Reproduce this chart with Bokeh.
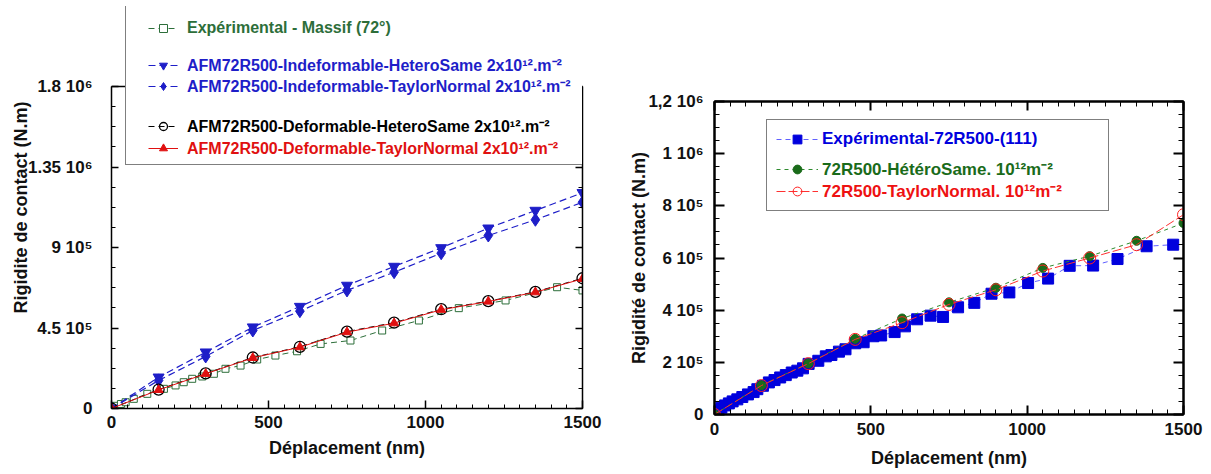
import numpy as np
from bokeh.plotting import figure
from bokeh.models import Range1d, LinearAxis, FixedTicker, Legend, LegendItem, Span
from bokeh.layouts import row
from bokeh.core.properties import value
from bokeh.embed import file_html
from bokeh.resources import INLINE

FONT = "Liberation Sans"

# ---------------- left chart data ----------------
left_exp_x = [0, 15, 30, 45, 71, 114, 167, 204, 230, 257, 289, 326, 363, 411, 464, 522, 591, 666, 761, 862, 979, 1106, 1255, 1419, 1500]
left_exp_y = [0, 15e3, 25e3, 35e3, 54e3, 82e3, 110e3, 129e3, 147e3, 166e3, 179e3, 194e3, 222e3, 240e3, 274e3, 296e3, 320e3, 361e3, 380e3, 436e3, 492e3, 561e3, 604e3, 678e3, 660e3]
left_sim_x = [0, 150, 300, 450, 600, 750, 900, 1050, 1200, 1350, 1500]
left_ind_hetero = [0, 175e3, 315e3, 455e3, 570e3, 688e3, 794e3, 898e3, 1008e3, 1107e3, 1206e3]
left_ind_taylor = [0, 157e3, 291e3, 436e3, 544e3, 660e3, 762e3, 868e3, 967e3, 1055e3, 1153e3]
left_def_hetero = [0, 106e3, 196e3, 285e3, 345e3, 430e3, 480e3, 555e3, 600e3, 652e3, 728e3]
left_def_taylor = [0, 104e3, 194e3, 283e3, 343e3, 427e3, 477e3, 552e3, 598e3, 650e3, 725e3]
left_labels = ["Expérimental - Massif (72°)",
               "AFM72R500-Indeformable-HeteroSame 2x10¹².m⁻²",
               "AFM72R500-Indeformable-TaylorNormal 2x10¹².m⁻²",
               "AFM72R500-Deformable-HeteroSame 2x10¹².m⁻²",
               "AFM72R500-Deformable-TaylorNormal 2x10¹².m⁻²"]
left_xticks = [0, 500, 1000, 1500]
left_yticks = [0, 450000, 900000, 1350000, 1800000]
left_yticklabels = ["0", "4.5 10⁵", "9 10⁵", "1.35 10⁶", "1.8 10⁶"]

# ---------------- right chart data ----------------
right_exp_x = [4, 12, 22, 34, 46, 58, 73, 89, 107, 125, 137, 155, 174, 192, 210, 228, 247, 265, 283, 301,
               332, 356, 374, 398, 419, 450, 477, 508, 533, 576, 609, 648, 691, 731, 779, 831, 886, 943,
               1003, 1067, 1136, 1211, 1289, 1382, 1467]
right_exp_y = [6.5e3, 16.8e3, 25.8e3, 34.8e3, 42.6e3, 50.3e3, 58e3, 67e3, 77e3, 86e3, 97e3, 110e3, 123e3,
               132e3, 142e3, 151e3, 161e3, 168e3, 177e3, 194e3, 206e3, 223e3, 228e3, 241e3, 250e3, 273e3,
               277e3, 300e3, 303e3, 316e3, 338e3, 365e3, 379e3, 374e3, 411e3, 428e3, 463e3, 468e3, 504e3,
               521e3, 570e3, 571e3, 596e3, 645e3, 651e3]
right_sim_x = [0, 150, 300, 450, 600, 750, 900, 1050, 1200, 1350, 1500]
right_hetero = [0, 112e3, 196e3, 290e3, 368e3, 430e3, 486e3, 562e3, 607e3, 666e3, 734e3]
right_taylor = [0, 111e3, 195e3, 288e3, 352e3, 422e3, 478e3, 550e3, 600e3, 651e3, 766e3]
right_labels = ["Expérimental-72R500-(111)",
                "72R500-HétéroSame. 10¹²m⁻²",
                "72R500-TaylorNormal. 10¹²m⁻²"]
right_xticks = [0, 500, 1000, 1500]
right_yticks = [0, 200000, 400000, 600000, 800000, 1000000, 1200000]
right_yticklabels = ["0", "2 10⁵", "4 10⁵", "6 10⁵", "8 10⁵", "1 10⁶", "1,2 10⁶"]


def axis_style(ax, size, tick_in, minor_in, width, label_size=None, standoff=6, show_labels=True):
    ax.axis_line_width = width
    ax.major_tick_line_width = width
    ax.minor_tick_line_width = 1
    ax.major_tick_in = tick_in
    ax.major_tick_out = 0
    ax.minor_tick_in = minor_in
    ax.minor_tick_out = 0
    ax.major_label_text_font = FONT
    ax.major_label_text_font_style = "bold"
    ax.major_label_text_font_size = size
    ax.major_label_text_color = "#111111" if show_labels else None
    ax.major_label_standoff = standoff
    if label_size:
        ax.axis_label_text_font = FONT
        ax.axis_label_text_font_style = "bold"
        ax.axis_label_text_font_size = label_size
        ax.axis_label_text_color = "#111111"


def text_legend(p, label, renderers, color, x, y, gw, gh, standoff, fsize):
    lg = Legend(items=[LegendItem(label=value(label), renderers=renderers)],
                location=(x, y), padding=0, margin=0, spacing=0,
                glyph_width=gw, glyph_height=gh, label_height=gh, label_width=0,
                label_standoff=standoff, label_text_font=FONT, label_text_font_style="bold",
                label_text_font_size=fsize, label_text_color=color,
                border_line_color=None, background_fill_alpha=0)
    p.add_layout(lg, "center")


def box_legend(p, dummy, x, y, w, h, lw):
    lg = Legend(items=[LegendItem(label=value(" "), renderers=[dummy])],
                location=(x, y), padding=0, margin=0, spacing=0,
                glyph_width=w, glyph_height=h, label_height=h, label_width=0,
                label_standoff=0, label_text_font_size="1px",
                border_line_color="black", border_line_width=lw,
                background_fill_color="white", background_fill_alpha=1)
    p.add_layout(lg, "center")


# ================= LEFT =================
L_W, L_H = 615, 470
L_left, L_right, L_top, L_bottom = 111, 33, 6, 62
frame_h = L_H - L_top - L_bottom
top_val_px = 322  # pixels above the frame bottom where 1.8e6 sits
y_end = left_yticks[-1] * frame_h / top_val_px

p1 = figure(width=L_W, height=L_H, x_range=Range1d(0, 1500), y_range=Range1d(0, y_end),
            x_axis_type=None, y_axis_type=None, output_backend="svg", toolbar_location=None,
            min_border_left=L_left, min_border_right=L_right, min_border_top=L_top,
            min_border_bottom=L_bottom, outline_line_color=None, background_fill_color="white",
            frame_align=False)

xt1 = FixedTicker(ticks=left_xticks, minor_ticks=list(range(0, 1501, 50)))
yt1 = FixedTicker(ticks=left_yticks, minor_ticks=list(np.arange(0, 1800001, 112500)))

xa1 = LinearAxis(ticker=xt1, axis_label="Déplacement (nm)")
axis_style(xa1, "17px", 8, 4, 1.5, "18px", standoff=7)
xa1.axis_label_standoff = 7
p1.add_layout(xa1, "below")

ya1 = LinearAxis(ticker=yt1, bounds=(0, 1800000), axis_label="Rigidite de contact (N.m)",
                 major_label_overrides={t: s for t, s in zip(left_yticks, left_yticklabels)})
axis_style(ya1, "17px", 7, 4, 1.5, "18px", standoff=19)
ya1.axis_label_standoff = -6
p1.add_layout(ya1, "left")

ya1r = LinearAxis(ticker=yt1, bounds=(0, 1800000))
axis_style(ya1r, "1px", 7, 4, 1.5, None, standoff=0, show_labels=False)
p1.add_layout(ya1r, "right")

p1.add_layout(Span(location=left_yticks[-1], dimension="width", line_color="black", line_width=1.5))

GREEN_L = "#2d6e3a"
BLUE_L = "#1e1ec8"
RED_L = "#e01010"

r_exp_l = p1.line(left_exp_x, left_exp_y, line_color=GREEN_L, line_dash="6 4", line_width=1)
r_exp_m = p1.scatter(left_exp_x, left_exp_y, marker="square", size=7, fill_color="white",
                     line_color=GREEN_L, line_width=1)
r_ih_l = p1.line(left_sim_x, left_ind_hetero, line_color=BLUE_L, line_dash="7 4", line_width=1.2)
r_ih_m = p1.scatter(left_sim_x, left_ind_hetero, marker="inverted_triangle", size=11,
                    fill_color=BLUE_L, line_color=BLUE_L)
r_it_l = p1.line(left_sim_x, left_ind_taylor, line_color=BLUE_L, line_dash="7 4", line_width=1.2)
r_it_m = p1.scatter(left_sim_x, left_ind_taylor, marker="diamond", size=13,
                    fill_color=BLUE_L, line_color=BLUE_L)
r_dh_l = p1.line(left_sim_x, left_def_hetero, line_color="black", line_dash="6 4", line_width=1)
r_dh_m = p1.scatter(left_sim_x, left_def_hetero, marker="circle", size=11, fill_color=None,
                    line_color="black", line_width=1.3)
r_dt_l = p1.line(left_sim_x, left_def_taylor, line_color=RED_L, line_width=1)
r_dt_m = p1.scatter(left_sim_x, left_def_taylor, marker="triangle", size=9, fill_color=RED_L,
                    line_color=RED_L)
dummy1 = p1.scatter([], [], fill_alpha=0, line_alpha=0)

fb1 = L_H - L_bottom  # frame bottom (px from top)
box_legend(p1, dummy1, 125 - L_left, fb1 - 165, 458, 165 - L_top, 1.5)
lx, lgw, lst, lfs, lrh = 148 - L_left, 30, 9, "16px", 20
left_rows = [(left_labels[0], [r_exp_l, r_exp_m], GREEN_L, 28),
             (left_labels[1], [r_ih_l, r_ih_m], BLUE_L, 66),
             (left_labels[2], [r_it_l, r_it_m], BLUE_L, 87),
             (left_labels[3], [r_dh_l, r_dh_m], "black", 127),
             (left_labels[4], [r_dt_l, r_dt_m], RED_L, 149)]
for lab, rends, col, cy in left_rows:
    text_legend(p1, lab, rends, col, lx, fb1 - (cy + lrh // 2), lgw, lrh, lst, lfs)

# ================= RIGHT =================
R_W, R_H = 590, 470
R_left, R_right, R_top, R_bottom = 99, 22, 101, 55
p2 = figure(width=R_W, height=R_H, x_range=Range1d(0, 1500), y_range=Range1d(0, 1200000),
            x_axis_type=None, y_axis_type=None, output_backend="svg", toolbar_location=None,
            min_border_left=R_left, min_border_right=R_right, min_border_top=R_top,
            min_border_bottom=R_bottom, outline_line_color="black", outline_line_width=2,
            background_fill_color="white", frame_align=False)

xt2 = FixedTicker(ticks=right_xticks, minor_ticks=list(range(0, 1501, 50)))
yt2 = FixedTicker(ticks=right_yticks, minor_ticks=list(range(0, 1200001, 50000)))

xa2 = LinearAxis(ticker=xt2, axis_label="Déplacement (nm)")
axis_style(xa2, "17px", 9, 5, 2, "18px", standoff=8)
xa2.axis_label_standoff = 10
p2.add_layout(xa2, "below")
xa2t = LinearAxis(ticker=xt2)
axis_style(xa2t, "1px", 9, 5, 2, None, standoff=0, show_labels=False)
p2.add_layout(xa2t, "above")

ya2 = LinearAxis(ticker=yt2, axis_label="Rigidité de contact (N.m)",
                 major_label_overrides={t: s for t, s in zip(right_yticks, right_yticklabels)})
axis_style(ya2, "17px", 10, 5, 2, "18px", standoff=11)
ya2.axis_label_standoff = -4
p2.add_layout(ya2, "left")
ya2r = LinearAxis(ticker=yt2)
axis_style(ya2r, "1px", 10, 5, 2, None, standoff=0, show_labels=False)
p2.add_layout(ya2r, "right")

BLUE_R = "#0000dd"
GREEN_R = "#1a6b1a"
RED_R = "#ee1111"

r_e_l = p2.line(right_exp_x, right_exp_y, line_color="#6060ff", line_dash="5 4", line_width=1)
r_e_m = p2.scatter(right_exp_x, right_exp_y, marker="square", size=11, fill_color=BLUE_R,
                   line_color=BLUE_R)
r_h_l = p2.line(right_sim_x, right_hetero, line_color="#2e8b2e", line_dash="4 4", line_width=1)
r_h_m = p2.scatter(right_sim_x, right_hetero, marker="circle", size=9, fill_color=GREEN_R,
                   line_color=GREEN_R)
r_t_l = p2.line(right_sim_x, right_taylor, line_color="#ff3030", line_dash="9 3", line_width=1)
r_t_m = p2.scatter(right_sim_x, right_taylor, marker="circle", size=12, fill_color=None,
                   line_color="#ff2020", line_width=1)
dummy2 = p2.scatter([], [], fill_alpha=0, line_alpha=0)

fb2 = R_H - R_bottom
box_legend(p2, dummy2, 766 - 615 - R_left, fb2 - 212, 341, 90, 1.5)
rx, rgw, rst, rfs, rrh = 776 - 615 - R_left, 42, 4, "17px", 22
right_rows = [(right_labels[0], [r_e_l, r_e_m], BLUE_R, 140),
              (right_labels[1], [r_h_l, r_h_m], GREEN_R, 170),
              (right_labels[2], [r_t_l, r_t_m], RED_R, 192)]
for lab, rends, col, cy in right_rows:
    text_legend(p2, lab, rends, col, rx, fb2 - (cy + rrh // 2), rgw, rrh, rst, rfs)

layout = row(p1, p2)
open("out.html", "w").write(file_html(layout, INLINE))
